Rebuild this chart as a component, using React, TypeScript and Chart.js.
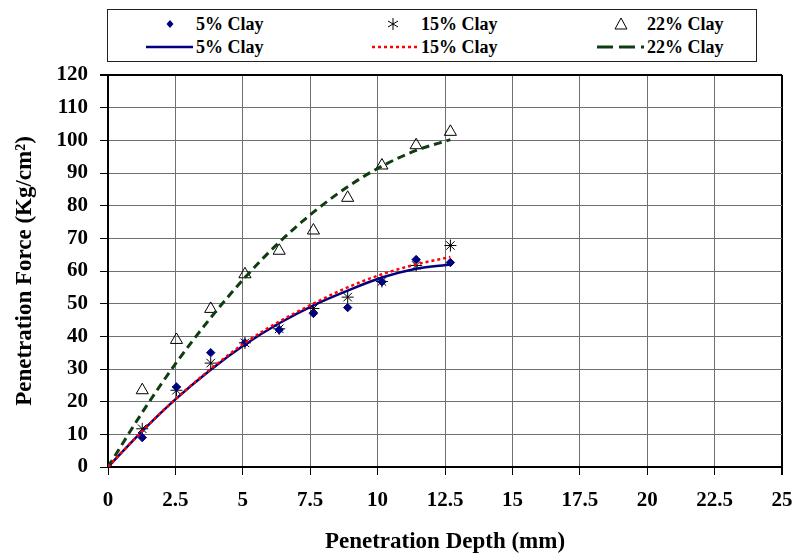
import React, { useEffect, useRef } from 'react';
import { Chart, registerables } from 'chart.js';

Chart.register(...registerables);

// Penetration depth (mm)
const depth = [0, 1.27, 2.54, 3.81, 5.08, 6.35, 7.62, 8.89, 10.16, 11.43, 12.7];
// Measured penetration force (Kg/cm2)
const clay5 = [0, 9, 24.5, 35, 38, 42, 47, 48.8, 56.7, 63.5, 62.6];
const clay15 = [0, 11.7, 23.5, 31.8, 38, 42.3, 48.5, 52, 56.8, 61.7, 67.8];
const clay22 = [0, 23.5, 38.9, 48.4, 59, 66.2, 72.4, 82.4, 92.3, 98.5, 102.6];
// Trend lines
const fit5 = [0, 11, 21, 29.8, 37.5, 44, 49.5, 54, 58, 60.7, 62];
const fit15 = [0, 11, 21, 30, 38, 44.5, 50, 55, 59, 62, 64.3];
const fit22 = [0, 16.7, 32, 45.7, 58, 68.8, 78, 85.8, 92.1, 96.9, 100.2];

const xTicks = [0, 2.5, 5, 7.5, 10, 12.5, 15, 17.5, 20, 22.5, 25];
const yTicks = [0, 10, 20, 30, 40, 50, 60, 70, 80, 90, 100, 110, 120];

const seriesLabels = ['5% Clay', '15% Clay', '22% Clay'];

const NAVY = '#000080';
const RED = '#ff0000';
const GREEN = '#0f3d0f';
const FONT = '"Liberation Serif", "Times New Roman", serif';

export default function App() {
  const ref = useRef<HTMLCanvasElement | null>(null);

  useEffect(() => {
    const canvas = ref.current;
    if (!canvas) return;
    const pts = (ys: number[]) => depth.map((x, i) => ({ x, y: ys[i] }));
    const tickFont = { family: FONT, size: 21, weight: 'bold' as const };
    const titleFont = { family: FONT, size: 23, weight: 'bold' as const };
    const chart = new Chart(canvas, {
      type: 'scatter',
      data: {
        datasets: [
          {
            label: seriesLabels[0],
            data: pts(clay5),
            pointStyle: 'rectRot',
            pointRadius: 4.2,
            backgroundColor: NAVY,
            borderColor: NAVY,
            borderWidth: 1,
            order: 2,
          },
          {
            label: seriesLabels[1],
            data: pts(clay15),
            pointStyle: 'star',
            pointRadius: 6,
            backgroundColor: 'rgba(0,0,0,0)',
            borderColor: '#000',
            borderWidth: 1,
            order: 2,
          },
          {
            label: seriesLabels[2],
            data: pts(clay22),
            pointStyle: 'triangle',
            pointRadius: 7,
            backgroundColor: 'rgba(0,0,0,0)',
            borderColor: '#000',
            borderWidth: 1,
            order: 2,
          },
          {
            label: seriesLabels[0] + ' trend',
            data: pts(fit5),
            showLine: true,
            pointRadius: 0,
            borderColor: NAVY,
            borderWidth: 2.5,
            cubicInterpolationMode: 'monotone',
            order: 1,
          },
          {
            label: seriesLabels[1] + ' trend',
            data: pts(fit15),
            showLine: true,
            pointRadius: 0,
            borderColor: RED,
            borderWidth: 2.5,
            borderDash: [3, 3],
            cubicInterpolationMode: 'monotone',
            order: 0,
          },
          {
            label: seriesLabels[2] + ' trend',
            data: pts(fit22),
            showLine: true,
            pointRadius: 0,
            borderColor: GREEN,
            borderWidth: 3,
            borderDash: [8, 5],
            cubicInterpolationMode: 'monotone',
            order: 0,
          },
        ],
      },
      options: {
        responsive: false,
        animation: false,
        layout: { padding: { top: 75, right: 13, bottom: 0, left: 0 } },
        plugins: { legend: { display: false }, tooltip: { enabled: false } },
        scales: {
          x: {
            type: 'linear',
            min: 0,
            max: 25,
            afterBuildTicks: (s: any) => {
              s.ticks = xTicks.map((v) => ({ value: v }));
            },
            ticks: { color: '#000', font: tickFont, padding: 13, maxRotation: 0, autoSkip: false },
            grid: {
              color: (c: any) => (c.tick && c.tick.value === 25 ? '#000' : '#707070'),
              lineWidth: (c: any) => (c.tick && c.tick.value === 25 ? 2 : 1),
              tickLength: 8,
              tickColor: '#000',
            },
            border: { display: true, color: '#000', width: 2 },
            title: {
              display: true,
              text: 'Penetration Depth (mm)',
              color: '#000',
              font: titleFont,
              padding: { top: 0, bottom: 0 },
            },
            afterFit: (s: any) => {
              s.height = 89;
              s.paddingRight = 0;
              s.paddingLeft = 0;
            },
          },
          y: {
            type: 'linear',
            min: 0,
            max: 120,
            afterBuildTicks: (s: any) => {
              s.ticks = yTicks.map((v) => ({ value: v }));
            },
            ticks: { color: '#000', font: tickFont, padding: 12 },
            grid: {
              color: (c: any) => (c.tick && c.tick.value === 120 ? '#000' : '#707070'),
              lineWidth: (c: any) => (c.tick && c.tick.value === 120 ? 2 : 1),
              tickLength: 8,
              tickColor: '#000',
            },
            border: { display: true, color: '#000', width: 2 },
            title: {
              display: true,
              text: 'Penetration Force (Kg/cm²)',
              color: '#000',
              font: titleFont,
              padding: { top: 11, bottom: 0 },
            },
            afterFit: (s: any) => {
              s.width = 108;
            },
          },
        },
      },
    } as any);
    return () => chart.destroy();
  }, []);

  const cols = [88, 313, 539];
  const rowCenters = [14, 37];
  const textStyle: React.CSSProperties = {
    position: 'absolute',
    fontFamily: FONT,
    fontWeight: 'bold',
    fontSize: 18,
    lineHeight: '22px',
    color: '#000',
    whiteSpace: 'nowrap',
  };

  const markerSvg = (i: number) => {
    if (i === 0) return <polygon points="24,7 27.5,11 24,15 20.5,11" fill={NAVY} />;
    if (i === 1)
      return (
        <g stroke="#000" strokeWidth={1}>
          <line x1={22} y1={5} x2={22} y2={17} />
          <line x1={17} y1={8} x2={27} y2={14} />
          <line x1={17} y1={14} x2={27} y2={8} />
        </g>
      );
    return <polygon points="24,5 30,16 18,16" fill="none" stroke="#000" strokeWidth={1} />;
  };

  const lineSvg = (i: number) => {
    if (i === 0) return <line x1={0} y1={11} x2={47} y2={11} stroke={NAVY} strokeWidth={2.5} />;
    if (i === 1)
      return <line x1={1} y1={11} x2={47} y2={11} stroke={RED} strokeWidth={2.5} strokeDasharray="3 3" />;
    return <line x1={0} y1={11} x2={47} y2={11} stroke={GREEN} strokeWidth={3} strokeDasharray="16 6" />;
  };

  return (
    <div style={{ position: 'absolute', left: 0, top: 0, width: 795, height: 556, background: '#fff' }}>
      <canvas ref={ref} width={795} height={556} style={{ position: 'absolute', left: 0, top: 0 }} />
      <div
        style={{
          position: 'absolute',
          left: 107,
          top: 9,
          width: 650,
          height: 53,
          border: '1px solid #222',
          boxSizing: 'border-box',
          background: '#fff',
        }}
      >
        {seriesLabels.map((lab, i) => (
          <React.Fragment key={lab}>
            <svg
              width={48}
              height={22}
              style={{ position: 'absolute', left: cols[i] - 50, top: rowCenters[0] - 11 }}
            >
              {markerSvg(i)}
            </svg>
            <span style={{ ...textStyle, left: cols[i], top: rowCenters[0] - 11 }}>{lab}</span>
            <svg
              width={48}
              height={22}
              style={{ position: 'absolute', left: cols[i] - 50, top: rowCenters[1] - 11 }}
            >
              {lineSvg(i)}
            </svg>
            <span style={{ ...textStyle, left: cols[i], top: rowCenters[1] - 11 }}>{lab}</span>
          </React.Fragment>
        ))}
      </div>
    </div>
  );
}
